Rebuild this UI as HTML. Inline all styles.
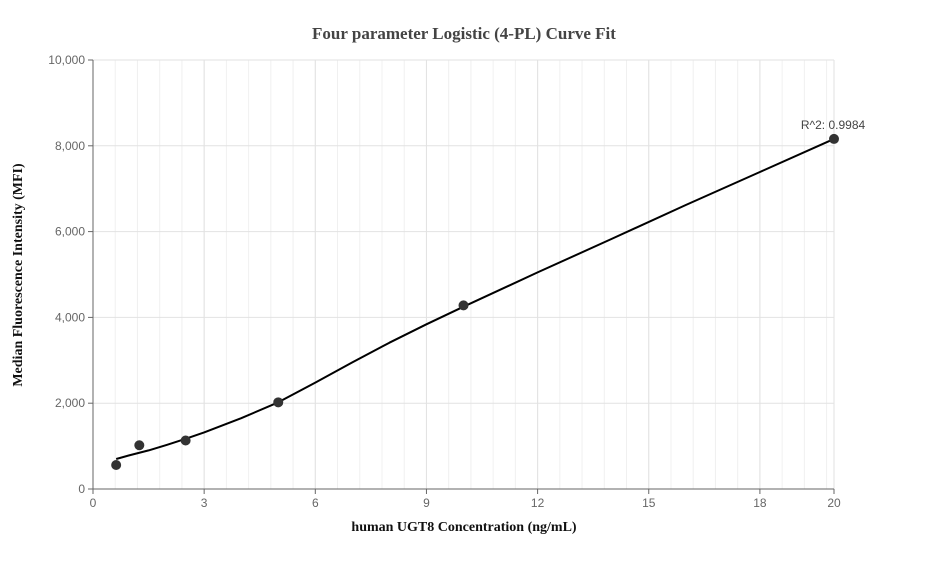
<!DOCTYPE html>
<html><head><meta charset="utf-8"><style>
body{margin:0;background:#fff;width:927px;height:560px;overflow:hidden}
text{font-family:"Liberation Sans",sans-serif}
</style></head><body>
<svg id="chart" width="927" height="560" xmlns="http://www.w3.org/2000/svg">
<text x="464" y="39" text-anchor="middle" font-family="Liberation Serif" font-weight="bold" font-size="17" fill="#444" style="font-family:'Liberation Serif',serif">Four parameter Logistic (4-PL) Curve Fit</text>
<text x="464" y="531" text-anchor="middle" font-weight="bold" font-size="14" fill="#111" style="font-family:'Liberation Serif',serif">human UGT8 Concentration (ng/mL)</text>
<text transform="translate(22,275) rotate(-90)" text-anchor="middle" font-weight="bold" font-size="14" fill="#111" style="font-family:'Liberation Serif',serif">Median Fluorescence Intensity (MFI)</text>
<g id="grid"></g><g id="axes"></g><g id="marks"></g>
</svg>
<script>
const xTicks=[0,3,6,9,12,15,18,20];
const yTicks=[0,2000,4000,6000,8000,10000];
const pointX=[0.625,1.25,2.5,5,10,20];
const pointY=[560,1020,1130,2020,4280,8160];
const curveX=[0.625,1,1.5,2,2.5,3,4,5,6,7,8,9,10,12,14,16,18,20];
const curveY=[700,790,900,1030,1170,1320,1650,2020,2480,2950,3410,3840,4250,5050,5830,6620,7390,8160];
const rLabel="R^2: 0.9984";
const X0=93,X1=834,Y0=489,Y1=60;
const sx=v=>X0+v/20*(X1-X0), sy=v=>Y0-v/10000*(Y0-Y1);
const NS="http://www.w3.org/2000/svg";
function mk(t,a,p){const e=document.createElementNS(NS,t);for(const k in a)e.setAttribute(k,a[k]);p.appendChild(e);return e;}
const grid=document.getElementById('grid'),axes=document.getElementById('axes'),marks=document.getElementById('marks');
for(let v=0.6;v<20;v+=0.6){const l=mk('line',{x1:sx(v),x2:sx(v),y1:Y1,y2:Y0,stroke:'#f0f0f0'},grid);

}
xTicks.forEach(t=>{const l=mk('line',{x1:sx(t),x2:sx(t),y1:Y1,y2:Y0,stroke:'#e2e2e2'},grid);


const tk=mk('line',{x1:sx(t),x2:sx(t),y1:Y0,y2:Y0+5,stroke:'#666'},axes);


const tx=mk('text',{x:sx(t),y:Y0+18,'text-anchor':'middle','font-size':12,fill:'#666'},axes);tx.textContent=t;

});
yTicks.forEach(t=>{const l=mk('line',{x1:X0,x2:X1,y1:sy(t),y2:sy(t),stroke:'#e2e2e2'},grid);


const tk=mk('line',{x1:X0-5,x2:X0,y1:sy(t),y2:sy(t),stroke:'#666'},axes);


const tx=mk('text',{x:X0-8,y:sy(t)+4,'text-anchor':'end','font-size':12,fill:'#666'},axes);tx.textContent=t.toLocaleString('en-US');

});
const xa=mk('line',{x1:X0,x2:X1,y1:Y0,y2:Y0,stroke:'#666'},axes);


const ya=mk('line',{x1:X0,x2:X0,y1:Y1,y2:Y0,stroke:'#666'},axes);


const d=curveX.map((x,i)=>(i?'L':'M')+sx(x).toFixed(1)+','+sy(curveY[i]).toFixed(1)).join(' ');
const c=mk('path',{d:d,fill:'none',stroke:'#000','stroke-width':2,'stroke-linejoin':'round'},marks);


pointX.forEach((x,i)=>{const p=mk('circle',{cx:sx(x),cy:sy(pointY[i]),r:5,fill:'#333'},marks);

});
const r=mk('text',{x:sx(pointX[pointX.length-1])-1,y:sy(pointY[pointY.length-1])-10,'text-anchor':'middle','font-size':12,fill:'#444'},marks);
r.textContent=rLabel;


</script>
</body></html>
